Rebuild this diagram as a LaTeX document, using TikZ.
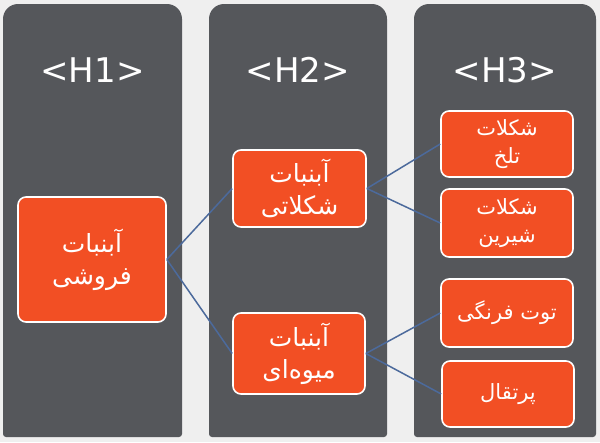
\documentclass[tikz,border=0pt]{standalone}
\usepackage{fontspec}
\usepackage{tikz}
\usetikzlibrary{positioning}
\setmainfont{DejaVu Sans}
\newfontfamily\farsi[Script=Arabic]{DejaVu Sans}
\TeXXeTstate=1
\newcommand{\rtl}[1]{\beginR#1\endR}

\definecolor{pagebg}{HTML}{EFEFEF}
\definecolor{lanegray}{HTML}{55575B}
\definecolor{boxred}{HTML}{F24F24}
\definecolor{linkblue}{HTML}{4C6A9C}

\tikzset{
  lane/.style={fill=lanegray},
  heading/.style={text=white,font=\fontsize{34}{38}\selectfont},
  topic/.style={draw=white,line width=1.6pt,fill=boxred,rounded corners=8pt,
    text=white,align=center,inner sep=0pt,
    font=\farsi\fontsize{25}{32}\selectfont},
  subtopic/.style={topic,minimum width=132pt,
    font=\farsi\fontsize{21}{28}\selectfont},
  link/.style={draw=linkblue,line width=1.5pt}
}

\begin{document}
\begin{tikzpicture}[x=1pt,y=-1pt]
\fill[pagebg] (0,0) rectangle (600,442);
\useasboundingbox (0,0) rectangle (600,442);
% the three columns
\foreach \l/\r in {3/182,209/387,414/596}
  \fill[lane] ({(\l+\r)/2},437) [rounded corners=3pt] -- (\l,437)
    [rounded corners=15pt] -- (\l,4) -- (\r,4) [rounded corners=3pt] -- (\r,437) -- cycle;
\node[heading] (h1) at (92.5,70) {<H1>};
\node[heading] (h2) at (298,70) {<H2>};
\node[heading] (h3) at (505,70) {<H3>};
% level 1
\node[topic,minimum width=148pt,minimum height=125pt] (sale) at (92,259.5)
  {\rtl{آبنبات}\\\rtl{فروشی}};
% level 2
\node[topic,minimum width=133pt,minimum height=77pt] (choco) at (299.5,188.5)
  {\rtl{آبنبات}\\\rtl{شکلاتی}};
\node[topic,minimum width=132pt,minimum height=81pt] (fruit) at (299,353.5)
  {\rtl{آبنبات}\\\rtl{میوه‌ای}};
% level 3
\node[subtopic,minimum height=66pt] (dark) at (507,144)
  {\rtl{شکلات}\\\rtl{تلخ}};
\node[subtopic,minimum height=68pt] (sweet) at (507,223)
  {\rtl{شکلات}\\\rtl{شیرین}};
\node[subtopic,minimum height=68pt] (straw) at (507,313)
  {\rtl{توت فرنگی}};
\node[subtopic,minimum height=66pt] (orange) at (508,394)
  {\rtl{پرتقال}};
% connectors
\draw[link] (sale.east) -- (choco.west);
\draw[link] (sale.east) -- (fruit.west);
\draw[link] (choco.east) -- (dark.west);
\draw[link] (choco.east) -- (sweet.west);
\draw[link] (fruit.east) -- (straw.west);
\draw[link] (fruit.east) -- (orange.west);
\end{tikzpicture}
\end{document}
